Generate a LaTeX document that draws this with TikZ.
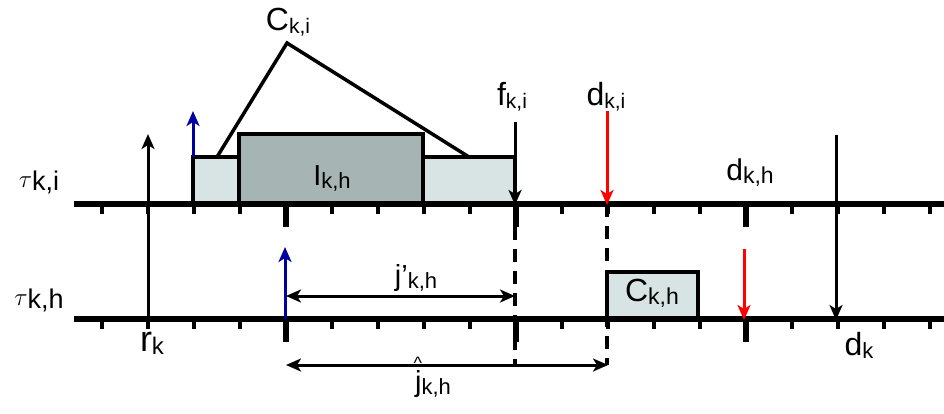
\documentclass[tikz,border=0pt]{standalone}
\usepackage{fontspec}
\setmainfont{Liberation Sans}
\usetikzlibrary{arrows.meta}
\definecolor{lightbox}{HTML}{D8E4E4}
\definecolor{darkbox}{HTML}{A6B4B3}
\definecolor{navy}{HTML}{0000A0}
\definecolor{redarr}{HTML}{FF0000}
\newcommand{\lbl}[4]{\fontsize{#3}{#3}\selectfont #1\raisebox{-3pt}{\fontsize{#4}{#4}\selectfont #2}}
\begin{document}
\begin{tikzpicture}[x=1pt,y=-1pt,
  axisline/.style={line width=6pt},
  smalltick/.style={line width=4pt},
  bigtick/.style={line width=5.5pt},
  boxline/.style={line width=3.5pt},
  arr/.style={line width=3pt,-{Stealth[length=15pt,width=13pt,inset=4pt]}},
  darr/.style={line width=3pt,{Stealth[length=15pt,width=13pt,inset=4pt]}-{Stealth[length=15pt,width=13pt,inset=4pt]}},
  dashline/.style={line width=3.5pt,dash pattern=on 13pt off 9pt},
  txt/.style={inner sep=0pt,anchor=center}]
\useasboundingbox (0,0) rectangle (944,413);
% boxes
\draw[boxline,fill=lightbox] (193,157) rectangle (515,204);
\draw[boxline,fill=darkbox] (239,134) rectangle (423,204);
\draw[boxline,fill=lightbox] (607,272) rectangle (698,319);
% axes
\coordinate (ta0) at (74,204); \coordinate (ta1) at (944,204);
\coordinate (ba0) at (74,319); \coordinate (ba1) at (944,319);
\draw[axisline] (ta0) -- (ta1);
\draw[axisline] (ba0) -- (ba1);
\foreach \n in {0,...,18}{
  \pgfmathsetmacro{\xx}{102+46*\n}
  \ifnum\n=4 \def\big{1}\else\ifnum\n=9 \def\big{1}\else\ifnum\n=14 \def\big{1}\else\def\big{0}\fi\fi\fi
  \ifnum\big=1
    \draw[bigtick] (\xx,204) -- (\xx,227);
    \draw[bigtick] (\xx,319) -- (\xx,342);
  \else
    \draw[smalltick] (\xx,204) -- (\xx,214);
    \draw[smalltick] (\xx,319) -- (\xx,329);
  \fi
}
% dashed lines
\coordinate (fa) at (515,227); \coordinate (fb) at (515,365);
\coordinate (da) at (607,204); \coordinate (db) at (607,365);
\draw[dashline] (fa) -- (fb);
\draw[dashline] (da) -- (db);
% C_k,i pointer lines
\coordinate (cl) at (217,157); \coordinate (capex) at (287,43); \coordinate (cr) at (469,157);
\draw[line width=3.5pt,line join=miter] (cl) -- (capex) -- (cr);
% arrows
\coordinate (r0) at (148,319); \coordinate (r1) at (148,134);
\draw[arr] (r0) -- (r1);
\coordinate (dk0) at (836,135); \coordinate (dk1) at (836,320);
\draw[arr] (dk0) -- (dk1);
\coordinate (b0) at (193,157); \coordinate (b1) at (193,111);
\draw[arr,navy] (b0) -- (b1);
\coordinate (bb0) at (285,319); \coordinate (bb1) at (285,247);
\draw[arr,navy] (bb0) -- (bb1);
\coordinate (f0) at (515,122); \coordinate (f1) at (515,205);
\draw[arr] (f0) -- (f1);
\coordinate (di0) at (607,111); \coordinate (di1) at (607,205);
\draw[arr,redarr] (di0) -- (di1);
\coordinate (dh0) at (744,249); \coordinate (dh1) at (744,320);
\draw[arr,redarr] (dh0) -- (dh1);
\coordinate (jp0) at (286,296); \coordinate (jp1) at (515,296);
\draw[darr] (jp0) -- (jp1);
\coordinate (j0) at (286,365); \coordinate (j1) at (608,365);
\draw[darr] (j0) -- (j1);
% labels
\node[txt] (tCki) at (288,22) {\lbl{C}{k,i}{32}{21}};
\node[txt] (tfki) at (512,97) {\lbl{f}{k,i}{32}{21}};
\node[txt] (tdki) at (606,97) {\lbl{d}{k,i}{32}{21}};
\node[txt] (tdkh) at (750,173) {\lbl{d}{k,h}{30}{23}};
\node[txt] (ttki) at (39,182) {\lbl{$\tau$}{k,i}{40}{27}};
\node[txt] (ttkh) at (39,300) {\lbl{$\tau$}{k,h}{40}{27}};
\node[txt] (tIkh) at (332,178) {\lbl{I}{k,h}{29}{22}};
\node[txt] (tCkh) at (652,293) {\lbl{C}{k,h}{32}{23}};
\node[txt] (tjp) at (416,278) {\lbl{j’}{k,h}{29}{22}};
\node[txt] (trk) at (152,343) {\lbl{r}{k}{36}{24}};
\node[txt] (tdk) at (859,345) {\lbl{d}{k}{32}{22}};
\node[txt] (tj) at (433,384) {\lbl{\rlap{\smash{\raisebox{22pt}{\kern-1.5pt\fontsize{18}{18}\selectfont\textasciicircum}}}j}{k,h}{29}{22}};
\end{tikzpicture}
\end{document}
